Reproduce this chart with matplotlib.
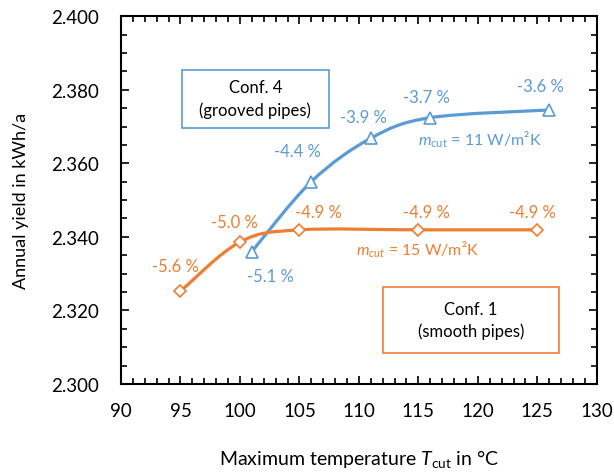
#
# Annual yield vs. maximum temperature for two pipe configurations
#

import numpy as np
import matplotlib.pyplot as plt
from matplotlib.path import Path
from matplotlib.patches import PathPatch, Rectangle

plt.rcParams.update(
    {
        "font.family": ["Lato", "DejaVu Sans"],
        "mathtext.fontset": "custom",
        "mathtext.rm": "Lato",
        "mathtext.it": "Lato:italic",
        "font.size": 12,
    }
)

blue = "#5B9BD5"
orange = "#ED7D31"

# Conf. 4 (grooved pipes)
T_conf4 = [101, 106, 111, 116, 126]
yield_conf4 = [2.3360, 2.3550, 2.3668, 2.3724, 2.3745]
labels_conf4 = ["-5.1 %", "-4.4 %", "-3.9 %", "-3.7 %", "-3.6 %"]

# Conf. 1 (smooth pipes)
T_conf1 = [95, 100, 105, 115, 125]
yield_conf1 = [2.3252, 2.3386, 2.3419, 2.3419, 2.3419]
labels_conf1 = ["-5.6 %", "-5.0 %", "-4.9 %", "-4.9 %", "-4.9 %"]


def smooth_path(x, y):
    # Excel-like smoothed line: cubic Bezier segments through the data points
    p = np.column_stack([x, y]).astype(float)
    n = len(p)
    verts = [p[0]]
    codes = [Path.MOVETO]
    for i in range(n - 1):
        p0 = p[max(i - 1, 0)]
        p3 = p[min(i + 2, n - 1)]
        c1 = p[i] + (p[i + 1] - p0) / 6
        c2 = p[i + 1] - (p3 - p[i]) / 6
        verts += [c1, c2, p[i + 1]]
        codes += [Path.CURVE4] * 3
    return Path(verts, codes)


fig = plt.figure(figsize=(6.14, 4.77), dpi=100)
ax = fig.add_axes([0.197, 0.193, 0.775, 0.771])

for x, y, c, m in [(T_conf4, yield_conf4, blue, "^"), (T_conf1, yield_conf1, orange, "D")]:
    ax.add_patch(PathPatch(smooth_path(x, y), facecolor="none", edgecolor=c, lw=2.3, zorder=2))
    ax.plot(x, y, ls="none", marker=m, ms=8.5 if m == "^" else 6.5, mfc="white",
            mec=c, mew=1.2, zorder=3)

# percentage labels
offs_conf4 = [(1.6, -0.0067), (-1.2, 0.0083), (-0.6, 0.0058), (-0.3, 0.0056), (-0.7, 0.0065)]
for x, y, s, (dx, dy) in zip(T_conf4, yield_conf4, labels_conf4, offs_conf4):
    ax.text(x + dx, y + dy, s, color=blue, ha="center", va="center", fontsize=12)

offs_conf1 = [(-0.4, 0.0068), (-0.5, 0.0054), (1.6, 0.0048), (0.7, 0.0048), (-0.4, 0.0048)]
for x, y, s, (dx, dy) in zip(T_conf1, yield_conf1, labels_conf1, offs_conf1):
    ax.text(x + dx, y + dy, s, color=orange, ha="center", va="center", fontsize=12)

ax.text(120.2, 2.3666, r"$m_{\mathrm{cut}}$ = 11 W/m²K", color=blue, ha="center",
        va="center", fontsize=11.5)
ax.text(114.9, 2.3367, r"$m_{cut}$ = 15 W/m²K", color=orange, ha="center",
        va="center", fontsize=11.5)

# configuration boxes
ax.add_patch(Rectangle((95.1, 2.3696), 12.4, 0.0157, fc="white", ec=blue, lw=1.2, zorder=4))
ax.text(101.3, 2.3776, "Conf. 4\n(grooved pipes)", ha="center", va="center",
        fontsize=12, linespacing=1.45, zorder=5)
ax.add_patch(Rectangle((112.0, 2.3084), 14.8, 0.0180, fc="white", ec=orange, lw=1.2, zorder=4))
ax.text(119.4, 2.3174, "Conf. 1\n(smooth pipes)", ha="center", va="center",
        fontsize=12, linespacing=1.45, zorder=5)

ax.set_xlim(90, 130)
ax.set_ylim(2.300, 2.400)
ax.set_xticks(np.arange(90, 131, 5))
ax.set_xticks(np.arange(90, 131, 1), minor=True)
ax.set_yticks(np.arange(2.300, 2.4001, 0.020))
ax.set_yticks(np.arange(2.300, 2.4001, 0.005), minor=True)
ax.yaxis.set_major_formatter(plt.FormatStrFormatter("%.3f"))

ax.tick_params(which="both", direction="in", top=True, right=True, width=1.2)
ax.tick_params(which="major", length=6, labelsize=13.5)
ax.tick_params(axis="y", which="major", pad=16)
ax.tick_params(axis="x", which="major", pad=13)
ax.tick_params(which="minor", length=4)
for s in ax.spines.values():
    s.set_linewidth(1.5)

ax.set_xlabel(r"Maximum temperature $T_{\mathrm{cut}}$ in °C", fontsize=14, labelpad=20)
ax.set_ylabel("Annual yield in kWh/a", fontsize=13, labelpad=16)

fig.savefig("out.png", dpi=100)
